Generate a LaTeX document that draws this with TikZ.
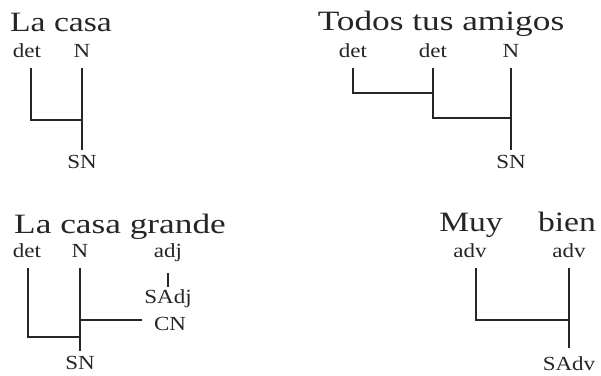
\documentclass[tikz,border=0pt]{standalone}
\usepackage{fontspec}
\setmainfont{Liberation Serif}
\begin{document}
\begin{tikzpicture}[x=1pt,y=-1pt,
  big/.style={font=\fontsize{28}{32}\selectfont, inner sep=0pt, anchor=base, xscale=1.2, text=ink},
  lbl/.style={font=\fontsize{20}{22}\selectfont, inner sep=0pt, anchor=base, xscale=1.15, text=ink},
  tree/.style={draw=ink, line width=1.2pt}]
\colorlet{ink}{black!85}
\path[use as bounding box, fill=white] (0,0) rectangle (601,375);

% Panel 1: La casa
\node[big] (t1) at (61,31) {La casa};
\node[lbl] (p1det) at (27,57) {det};
\node[lbl] (p1N) at (82,57) {N};
\node[lbl] (p1SN) at (82,168) {SN};
\coordinate (p1j) at (82,120);
\draw[tree] ([xshift=4pt,yshift=-11pt]p1det.base) |- (p1j);
\draw[tree] ([yshift=-11pt]p1N.base) -- ([yshift=18pt]p1SN.base);

% Panel 2: Todos tus amigos
\node[big, xscale=1.05] (t2) at (441,30) {Todos tus amigos};
\node[lbl] (p2d1) at (353,57) {det};
\node[lbl] (p2d2) at (433,57) {det};
\node[lbl] (p2N) at (511,57) {N};
\node[lbl] (p2SN) at (511,168) {SN};
\coordinate (p2ja) at (433,93);
\coordinate (p2jb) at (511,118);
\draw[tree] ([yshift=-11pt]p2d1.base) |- (p2ja);
\draw[tree] ([yshift=-11pt]p2d2.base) |- (p2jb);
\draw[tree] ([yshift=-11pt]p2N.base) -- ([yshift=18pt]p2SN.base);

% Panel 3: La casa grande
\node[big, xscale=1.05] (t3) at (120,233) {La casa grande};
\node[lbl] (p3det) at (27,257) {det};
\node[lbl] (p3N) at (80,257) {N};
\node[lbl] (p3adj) at (168,257) {adj};
\node[lbl] (p3SAdj) at (168,303) {SAdj};
\node[lbl] (p3CN) at (170,330) {CN};
\node[lbl] (p3SN) at (80,369) {SN};
\coordinate (p3j) at (80,337);
\coordinate (p3jb) at (80,320);
\coordinate (p3cn) at (142,320);
\draw[tree] ([xshift=1pt,yshift=-11pt]p3det.base) |- (p3j);
\draw[tree] ([yshift=-11pt]p3N.base) -- ([yshift=18pt]p3SN.base);
\draw[tree] ([yshift=-16pt]p3adj.base) -- ([yshift=16pt]p3SAdj.base);
\draw[tree] (p3jb) -- (p3cn);

% Panel 4: Muy bien
\node[big] (t4a) at (471,231) {Muy};
\node[big] (t4b) at (567,231) {bien};
\node[lbl] (p4a1) at (470,257) {adv};
\node[lbl] (p4a2) at (569,257) {adv};
\node[lbl] (p4SAdv) at (569,370) {SAdv};
\coordinate (p4j) at (569,320);
\draw[tree] ([xshift=6pt,yshift=-11pt]p4a1.base) |- (p4j);
\draw[tree] ([yshift=-11pt]p4a2.base) -- ([yshift=22pt]p4SAdv.base);
\end{tikzpicture}
\end{document}
